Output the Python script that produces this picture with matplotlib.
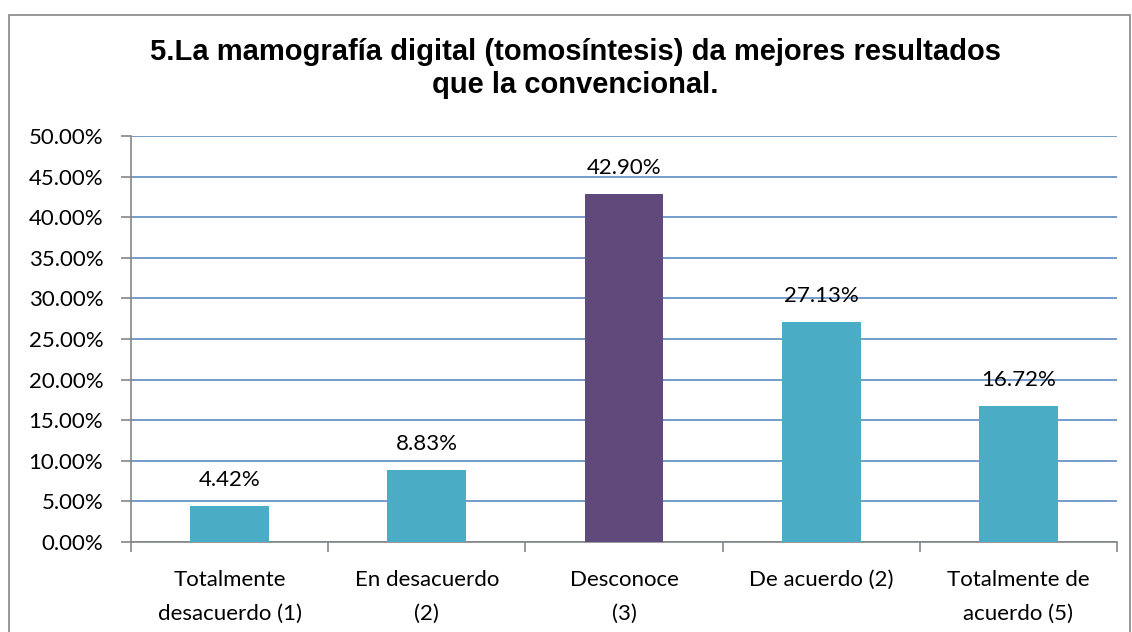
import matplotlib.pyplot as plt
from matplotlib.patches import Rectangle
from matplotlib.ticker import MultipleLocator, FuncFormatter

categories = ["Totalmente\ndesacuerdo (1)", "En desacuerdo\n(2)", "Desconoce\n(3)",
              "De acuerdo (2)", "Totalmente de\nacuerdo (5)"]
values = [4.42, 8.83, 42.90, 27.13, 16.72]
bar_colors = ["#4BACC6", "#4BACC6", "#604A7B", "#4BACC6", "#4BACC6"]
title = "5.La mamografía digital (tomosíntesis) da mejores resultados\nque la convencional."

fig = plt.figure(figsize=(11.32, 6.32), dpi=100)
ax = fig.add_axes([0.1157, 0.1424, 0.8711, 0.6424])

# outer chart frame
fig.patches.append(Rectangle((9 / 1132, -0.01), 1121 / 1132, 1 - 15 / 632 + 0.01,
                             transform=fig.transFigure, fill=False,
                             edgecolor="#868686", linewidth=1.2))

xs = range(len(values))
bars = ax.bar(xs, values, width=0.4, color=bar_colors, zorder=3)
for x, v in zip(xs, values):
    ax.text(x, v + 2.45, "{:.2f}%".format(v), ha="center", va="baseline",
            fontsize=16, family="Lato")

ax.set_xlim(-0.5, len(values) - 0.5)
ax.set_ylim(0, 50)
ax.yaxis.set_major_locator(MultipleLocator(5))
ax.yaxis.set_major_formatter(FuncFormatter(lambda v, p: "{:.2f}%".format(v)))
ax.grid(axis="y", color="#4F81BD", linewidth=1.1, zorder=0)

ax.set_xticks([i + 0.5 for i in range(-1, len(values))], minor=False)
ax.set_xticklabels([])
ax.set_xticks(list(xs), minor=True)
ax.set_xticklabels(categories, minor=True, fontsize=16, family="Lato", linespacing=1.85)
ax.tick_params(axis="x", which="major", length=7, color="#868686", width=1.2)
ax.tick_params(axis="x", which="minor", length=0, pad=20)
ax.tick_params(axis="y", length=7, color="#868686", width=1.2, labelsize=16, pad=13)
for label in ax.get_yticklabels():
    label.set_family("Lato")

for side in ["top", "right"]:
    ax.spines[side].set_visible(False)
for side in ["left", "bottom"]:
    ax.spines[side].set_color("#868686")
    ax.spines[side].set_linewidth(1.2)

fig.text(0.508, 0.892, title, ha="center", va="center", fontsize=21,
         fontweight="bold", family="Liberation Sans", linespacing=1.25)

fig.savefig("out.png", dpi=100)
